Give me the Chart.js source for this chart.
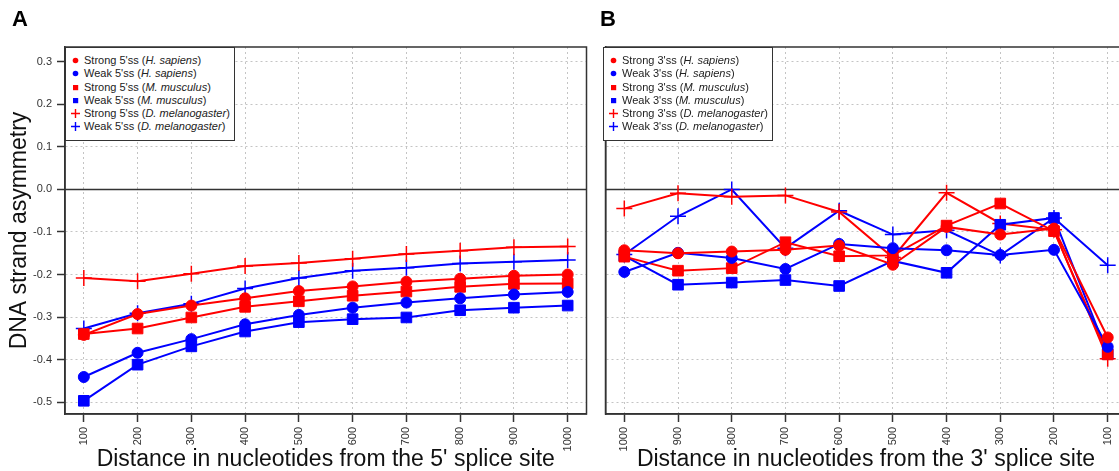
<!DOCTYPE html>
<html>
<head>
<meta charset="utf-8">
<script src="https://cdn.jsdelivr.net/npm/chart.js@4.4.0/dist/chart.umd.min.js"></script>
<style>
body { margin: 0; background: #fff; overflow: hidden; width: 1119px; height: 471px; position: relative; font-family: 'Liberation Sans', Arial, sans-serif; }
.panel { position: absolute; top: 0; }
.letter { position: absolute; top: 8px; font-weight: bold; font-size: 22px; line-height: 22px; color: #000; }
.legend { position: absolute; top: 47px; width: 170px; height: 94px; box-sizing: border-box; border: 1.5px solid #333; background: #fff; padding-top: 6px; font-size: 11px; color: #222; }
.legend div { position: relative; height: 13.3px; line-height: 13.3px; padding-left: 18px; white-space: nowrap; }
.legend svg { position: absolute; left: 4px; top: 1px; }
</style>
</head>
<body>
<div class="panel" style="left:0"><canvas id="chartA" width="596" height="471"></canvas></div>
<div class="panel" style="left:596px"><canvas id="chartB" width="540" height="471"></canvas></div>
<div class="letter" style="left:12px">A</div>
<div class="letter" style="left:600px">B</div>
<div class="legend" id="legendA" style="left:65px"></div>
<div class="legend" id="legendB" style="left:603px"></div>
<script>
// distances (nt) from the splice site
const dist5 = [100, 200, 300, 400, 500, 600, 700, 800, 900, 1000];
const dist3 = [1000, 900, 800, 700, 600, 500, 400, 300, 200, 100];
const yTicks = [0.3, 0.2, 0.1, 0.0, -0.1, -0.2, -0.3, -0.4, -0.5];

const strength = ["Strong", "Weak", "Strong", "Weak", "Strong", "Weak"];
const species = ["H. sapiens", "H. sapiens", "M. musculus", "M. musculus", "D. melanogaster", "D. melanogaster"];

// panel A, 5' splice site
const strongHs5 = [-0.342, -0.293, -0.273, -0.256, -0.239, -0.228, -0.217, -0.210, -0.203, -0.200];
const weakHs5   = [-0.441, -0.384, -0.352, -0.317, -0.295, -0.278, -0.266, -0.256, -0.247, -0.241];
const strongMm5 = [-0.340, -0.327, -0.301, -0.276, -0.263, -0.250, -0.240, -0.229, -0.222, -0.221];
const weakMm5   = [-0.497, -0.412, -0.369, -0.334, -0.312, -0.305, -0.301, -0.284, -0.278, -0.273];
const strongDm5 = [-0.208, -0.216, -0.198, -0.180, -0.173, -0.163, -0.152, -0.144, -0.136, -0.134];
const weakDm5   = [-0.327, -0.291, -0.269, -0.233, -0.208, -0.191, -0.184, -0.174, -0.170, -0.166];

// panel B, 3' splice site (same order as dist3)
const strongHs3 = [-0.143, -0.150, -0.146, -0.142, -0.132, -0.177, -0.088, -0.106, -0.092, -0.348];
const weakHs3   = [-0.194, -0.149, -0.161, -0.187, -0.128, -0.138, -0.143, -0.154, -0.142, -0.370];
const strongMm3 = [-0.158, -0.191, -0.185, -0.124, -0.157, -0.155, -0.085, -0.033, -0.098, -0.388];
const weakMm3   = [-0.156, -0.224, -0.219, -0.213, -0.227, -0.168, -0.196, -0.083, -0.067, -0.387];
const strongDm3 = [-0.045, -0.009, -0.017, -0.014, -0.053, -0.160, -0.008, -0.080, -0.095, -0.398];
const weakDm3   = [-0.153, -0.063, 0.000, -0.138, -0.050, -0.106, -0.096, -0.155, -0.067, -0.178];

const colors = ['#ff0000', '#0000ff', '#ff0000', '#0000ff', '#ff0000', '#0000ff'];
const shapes = ['circle', 'circle', 'rect', 'rect', 'cross', 'cross'];
const radius = {circle: 5.5, rect: 7.5, cross: 8};

const makeDatasets = (xs, series) => series.map((vals, i) => ({
    data: vals.map((v, j) => ({x: xs[j], y: v})),
    borderColor: colors[i],
    backgroundColor: colors[i],
    borderWidth: 2,
    pointStyle: shapes[i],
    pointRadius: radius[shapes[i]],
    pointHoverRadius: radius[shapes[i]],
    pointBorderWidth: shapes[i] == 'cross' ? 1.5 : 1,
    pointBackgroundColor: colors[i],
    pointBorderColor: colors[i],
    tension: 0
}));

// box around plot + solid zero line
const frame = {
    id: 'frame',
    beforeDatasetsDraw(chart) {
        const {ctx, chartArea: a, scales: {y}} = chart;
        const y0 = y.getPixelForValue(0);
        ctx.save();
        ctx.strokeStyle = '#333';
        ctx.lineWidth = 1.5;
        ctx.beginPath();
        ctx.moveTo(a.left, y0);
        ctx.lineTo(a.right, y0);
        ctx.stroke();
        ctx.restore();
    },
    afterDraw(chart) {
        const {ctx, chartArea: a} = chart;
        ctx.save();
        ctx.strokeStyle = '#333';
        ctx.lineWidth = 1.5;
        ctx.strokeRect(a.left, a.top, a.right - a.left, a.bottom - a.top);
        ctx.restore();
    }
};

const gridOpts = {color: '#c4c4c4', lineWidth: 1, tickColor: '#333', tickLength: 8, tickWidth: 1.5, tickBorderDash: []};
const borderOpts = {color: '#333', width: 1.5, dash: [2, 3]};

const plot = (where, xs, series, reverse, siteLabel, showY, padRight, yWidth) => {
    const ctx = document.getElementById(where).getContext('2d');
    new Chart(ctx, {
        type: 'line',
        data: {datasets: makeDatasets(xs, series)},
        options: {
            responsive: false,
            animation: false,
            devicePixelRatio: 1,
            layout: {padding: {top: 47, right: padRight, left: 0, bottom: 0}},
            plugins: {legend: {display: false}, tooltip: {enabled: false}},
            scales: {
                x: {
                    type: 'linear', min: 65, max: 1035, reverse: reverse,
                    afterBuildTicks: s => { s.ticks = dist5.map(v => ({value: v})); },
                    afterFit: s => { s.height = 57; },
                    ticks: {minRotation: 90, maxRotation: 90, autoSkip: false, padding: 5,
                            color: '#333', font: {size: 11, family: "'Liberation Sans', Arial"},
                            callback: v => String(v)},
                    grid: gridOpts,
                    border: borderOpts,
                    title: {display: true, text: 'Distance in nucleotides from the ' + siteLabel + ' splice site',
                            color: '#111', font: {size: 23, family: "'Liberation Sans', Arial", lineHeight: 1},
                            padding: 0}
                },
                y: {
                    min: -0.528, max: 0.335,
                    afterBuildTicks: s => { s.ticks = yTicks.map(v => ({value: v})); },
                    afterFit: s => { s.width = yWidth; },
                    ticks: {display: showY, padding: 5, color: '#333',
                            font: {size: 11, family: "'Liberation Sans', Arial"},
                            callback: v => v.toFixed(1)},
                    grid: Object.assign({}, gridOpts, {drawTicks: showY}),
                    border: borderOpts,
                    title: {display: showY, text: 'DNA strand asymmetry', color: '#111',
                            font: {size: 23, family: "'Liberation Sans', Arial", lineHeight: 1},
                            padding: {top: 8, bottom: 0}}
                }
            }
        },
        plugins: [frame]
    });
};

const marker = (shape, color) => {
    if (shape == 'circle') return `<svg width="11" height="11"><circle cx="5.5" cy="5.5" r="2.8" fill="${color}"/></svg>`;
    if (shape == 'rect') return `<svg width="11" height="11"><rect x="3" y="3" width="5.2" height="5.2" fill="${color}"/></svg>`;
    return `<svg width="11" height="11"><path d="M5.5 1V10M1 5.5H10" stroke="${color}" stroke-width="1.4"/></svg>`;
};

const buildLegend = (where, site) => {
    document.getElementById(where).innerHTML = species.map((sp, i) =>
        `<div>${marker(shapes[i], colors[i])}${strength[i]} ${site}ss (<i>${sp}</i>)</div>`).join('');
};

window.onload = function () {
    plot('chartA', dist5, [strongHs5, weakHs5, strongMm5, weakMm5, strongDm5, weakDm5], false, "5'", true, 4, 65);
    plot('chartB', dist3, [strongHs3, weakHs3, strongMm3, weakMm3, strongDm3, weakDm3], true, "3'", false, 9, 7);
    buildLegend('legendA', "5'");
    buildLegend('legendB', "3'");
};
</script>
</body>
</html>
